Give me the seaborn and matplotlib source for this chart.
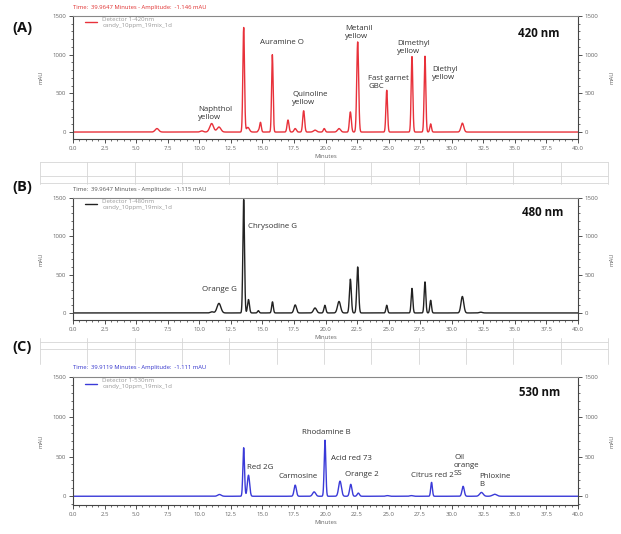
import numpy as np
import pandas as pd
import matplotlib
matplotlib.use("Agg")
import matplotlib.pyplot as plt
from matplotlib.lines import Line2D
from matplotlib.ticker import MultipleLocator
import seaborn as sns

# ---------------- data ----------------
# Panel A, 420 nm: retention time (min), peak height (mAU), peak width (min)
a_rt = [6.65, 10.2, 10.98, 11.56, 13.52, 13.85, 14.7, 14.85, 15.79, 17.03, 17.6,
        18.27, 19.17, 19.9, 21.07, 21.97, 22.55, 24.85, 26.85, 27.88, 28.33, 30.84]
a_h = [45, 15, 110, 65, 1350, 60, 20, 125, 1000, 155, 45,
       275, 25, 45, 45, 260, 1165, 540, 975, 980, 105, 115]
a_w = [0.14, 0.12, 0.15, 0.15, 0.065, 0.12, 0.06, 0.065, 0.06, 0.075, 0.09,
       0.075, 0.12, 0.075, 0.12, 0.075, 0.075, 0.065, 0.065, 0.065, 0.065, 0.11]

# Panel B, 480 nm
b_rt = [11.0, 11.56, 13.52, 13.9, 14.68, 15.8, 17.6, 19.17, 19.95, 21.07,
        21.97, 22.55, 24.85, 26.85, 27.88, 28.33, 30.84, 32.3]
b_h = [15, 125, 1480, 175, 30, 145, 105, 65, 100, 150,
       440, 600, 100, 320, 405, 165, 215, 10]
b_w = [0.12, 0.15, 0.065, 0.075, 0.065, 0.065, 0.1, 0.12, 0.075, 0.12,
       0.075, 0.075, 0.065, 0.065, 0.065, 0.065, 0.11, 0.12]

# Panel C, 530 nm
c_rt = [11.6, 13.52, 13.9, 17.6, 19.1, 19.96, 21.15, 22.0, 22.6, 24.9, 26.8,
        28.4, 30.9, 32.35, 33.4]
c_h = [22, 610, 265, 140, 55, 705, 190, 150, 40, 8, 8, 175, 125, 48, 25]
c_w = [0.14, 0.065, 0.09, 0.09, 0.12, 0.065, 0.11, 0.09, 0.09, 0.12, 0.12,
       0.065, 0.09, 0.14, 0.17]

# labels
a_names = ["Naphthol\nyellow", "Auramine O", "Quinoline\nyellow", "Metanil\nyellow",
           "Fast garnet\nGBC", "Dimethyl\nyellow", "Diethyl\nyellow"]
b_names = ["Orange G", "Chrysodine G"]
c_names = ["Red 2G", "Carmosine", "Rhodamine B", "Acid red 73", "Orange 2",
           "Citrus red 2", "Oil\norange\nSS", "Phloxine\nB"]
panel_tags = ["(A)", "(B)", "(C)"]
wavelengths = ["420 nm", "480 nm", "530 nm"]
detectors = ["Detector 1-420nm", "Detector 1-480nm", "Detector 1-530nm"]
sample_name = "candy_10ppm_19mix_1d"
time_headers = ["Time:  39.9647 Minutes - Amplitude:  -1.146 mAU",
                "Time:  39.9647 Minutes - Amplitude:  -1.115 mAU",
                "Time:  39.9119 Minutes - Amplitude:  -1.111 mAU"]
x_ticks = [0.0, 2.5, 5.0, 7.5, 10.0, 12.5, 15.0, 17.5, 20.0, 22.5, 25.0,
           27.5, 30.0, 32.5, 35.0, 37.5, 40.0]
y_ticks = [0, 500, 1000, 1500]

# ---------------- layout / style ----------------
W, H = 621, 534
line_colors = ["#e8313a", "#222222", "#3a3ad8"]
header_colors = ["#e03030", "#555555", "#3333cc"]
# axes boxes in pixels: (left, top, right, bottom), y-lower limit
boxes = [(73, 16, 578, 139, -90), (73, 198, 578, 320, -92), (73, 377, 578, 505, -110)]
label_pos = [
    [(9.9, 246), (14.8, 1151), (17.35, 440), (21.55, 1293), (23.37, 634),
     (25.66, 1099), (28.44, 756)],
    [(10.22, 300), (13.86, 1122)],
    [(13.78, 366), (16.24, 252), (18.14, 807), (20.44, 479), (21.54, 277),
     (26.77, 265), (30.18, 391), (32.16, 202)],
]
wl_pos = [(35.25, 1280), (35.56, 1317), (35.3, 1299)]

sns.set_style("ticks")
plt.rcParams["font.family"] = ["Open Sans", "DejaVu Sans"]

fig = plt.figure(figsize=(W / 100, H / 100), dpi=100)
fig.patch.set_facecolor("white")

t = np.linspace(0, 40, 4001)


def trace(rt, h, w):
    y = np.zeros_like(t)
    for r, hh, ww in zip(rt, h, w):
        y += hh * np.exp(-0.5 * ((t - r) / ww) ** 2)
    return y


series = [(a_rt, a_h, a_w), (b_rt, b_h, b_w), (c_rt, c_h, c_w)]
names = [a_names, b_names, c_names]

for i, (box, (rt, h, w)) in enumerate(zip(boxes, series)):
    l, tp, r, b, ylo = box
    ax = fig.add_axes([l / W, 1 - b / H, (r - l) / W, (b - tp) / H])
    df = pd.DataFrame({"Minutes": t, "mAU": trace(rt, h, w)})
    sns.lineplot(data=df, x="Minutes", y="mAU", ax=ax, color=line_colors[i],
                 linewidth=1.0, label=detectors[i] + "\n" + sample_name)
    ax.set_xlim(0, 40)
    ax.set_ylim(ylo, 1500)
    ax.set_xticks(x_ticks)
    ax.set_xticklabels([f"{v:.1f}" for v in x_ticks])
    ax.set_yticks(y_ticks)
    ax.xaxis.set_minor_locator(MultipleLocator(0.5))
    ax.yaxis.set_minor_locator(MultipleLocator(100))
    ax.tick_params(axis="both", which="major", length=3, width=0.6,
                   labelsize=4.3, labelcolor="#666666", color="#333333", pad=2)
    ax.tick_params(axis="both", which="minor", length=1.6, width=0.5, color="#333333")
    ax.tick_params(axis="y", which="both", right=True, labelright=True)
    for s in ax.spines.values():
        s.set_linewidth(0.8)
        s.set_color("#444444")
    ax.spines["top"].set_color("#888888")
    ax.set_xlabel("Minutes", fontsize=4.3, color="#666666", labelpad=2)
    ax.set_ylabel("mAU", fontsize=4.3, color="#666666", labelpad=6)
    ax.text(1.068, 0.5, "mAU", transform=ax.transAxes, rotation=90, fontsize=4.3,
            color="#666666", ha="center", va="center")
    ax.legend(loc="upper left", bbox_to_anchor=(0.024, 0.99), frameon=False,
              fontsize=4.4, handlelength=2.0, handletextpad=0.8,
              borderpad=0, borderaxespad=0, labelcolor="#999999")
    for nm, (xx, yy) in zip(names[i], label_pos[i]):
        ax.text(xx, yy, nm, fontsize=5.7, color="#333333", ha="left", va="center",
                linespacing=1.2)
    ax.text(wl_pos[i][0], wl_pos[i][1], wavelengths[i], fontsize=8.3,
            fontweight="bold", color="#111111", ha="left", va="center")
    fig.text(l / W, 1 - (tp - 9) / H, time_headers[i], fontsize=4.2,
             color=header_colors[i], ha="left", va="center")

# panel tags
for tag, py in zip(panel_tags, [28, 187, 347]):
    fig.text(22 / W, 1 - py / H, tag, fontsize=10.5, fontweight="bold",
             ha="center", va="center", color="#111111")

# faint grid tables between panels
gc = "#d6d6d6"


def hline(y, x0=40, x1=608):
    fig.add_artist(Line2D([x0 / W, x1 / W], [1 - y / H, 1 - y / H], color=gc, lw=0.6))


def vline(x, y0, y1):
    fig.add_artist(Line2D([x / W, x / W], [1 - y0 / H, 1 - y1 / H], color=gc, lw=0.6))


for y in (162, 176, 183):
    hline(y)
for y in (342, 349):
    hline(y)
for k in range(13):
    x = 40 + k * 47.33
    vline(x, 162, 184)
    vline(x, 338, 364)

fig.savefig("out.png", dpi=100, facecolor="white")
